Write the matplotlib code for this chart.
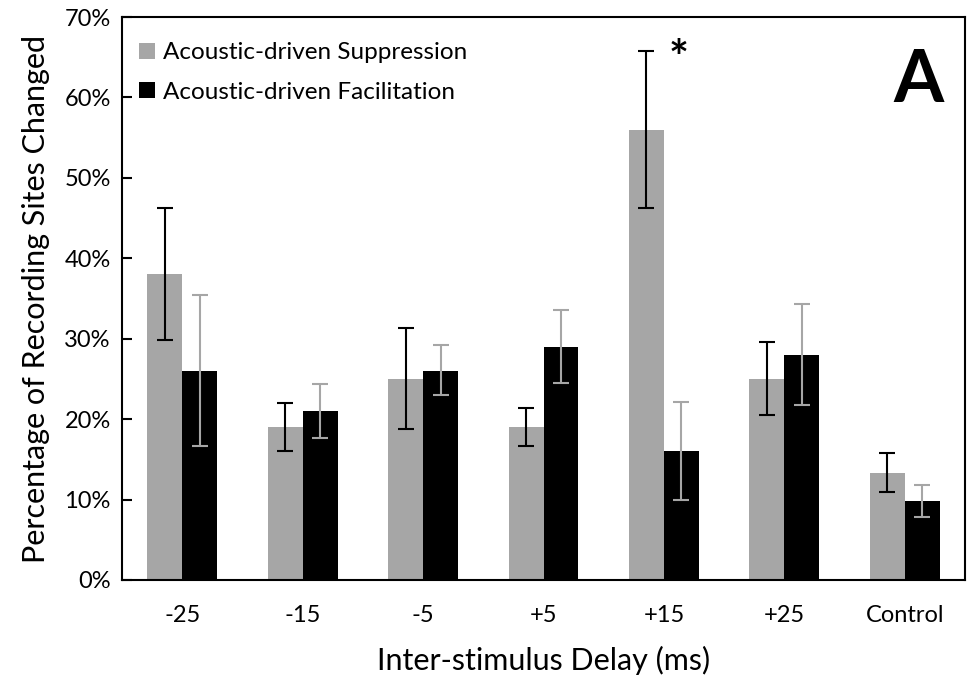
import matplotlib.pyplot as plt
import numpy as np

plt.rcParams['font.family'] = ['Lato', 'DejaVu Sans']

categories = ['-25', '-15', '-5', '+5', '+15', '+25', 'Control']
suppression = [38, 19, 25, 19, 56, 25, 13.3]
supp_lo = [29.8, 16.1, 18.8, 16.6, 46.3, 20.5, 10.9]
supp_hi = [46.2, 22.0, 31.3, 21.4, 65.8, 29.6, 15.8]
facilitation = [26, 21, 26, 29, 16, 28, 9.8]
fac_lo = [16.7, 17.6, 23.0, 24.5, 9.9, 21.8, 7.8]
fac_hi = [35.4, 24.4, 29.2, 33.6, 22.1, 34.3, 11.8]

fig = plt.figure(figsize=(9.67, 6.83), dpi=100)
ax = fig.add_axes([122 / 967, 1 - 580 / 683, 843 / 967, 563 / 683])

x = np.arange(len(categories))
w = 0.29
s = np.array(suppression)
f = np.array(facilitation)
s_err = [s - np.array(supp_lo), np.array(supp_hi) - s]
f_err = [f - np.array(fac_lo), np.array(fac_hi) - f]

ax.bar(x - w / 2, s, w, color='#a6a6a6', label='Acoustic-driven Suppression',
       yerr=s_err, error_kw=dict(ecolor='black', elinewidth=1.5, capsize=6, capthick=1.5))
ax.bar(x + w / 2, f, w, color='black', label='Acoustic-driven Facilitation',
       yerr=f_err, error_kw=dict(ecolor='#a6a6a6', elinewidth=1.5, capsize=6, capthick=1.5))

ax.set_xlim(-0.5, len(categories) - 0.5)
ax.set_ylim(0, 70)
ax.set_yticks(np.arange(0, 71, 10))
ax.set_yticklabels([f'{v}%' for v in range(0, 71, 10)], fontsize=17)
ax.set_xticks(x)
ax.set_xticklabels(categories, fontsize=17)
ax.tick_params(axis='y', direction='in', length=7, width=1.5, pad=8)
ax.tick_params(axis='x', length=0, pad=18)
for sp in ax.spines.values():
    sp.set_linewidth(1.5)

ax.set_xlabel('Inter-stimulus Delay (ms)', fontsize=22, labelpad=14)
ax.set_ylabel('Percentage of Recording Sites Changed', fontsize=22, labelpad=10)

ax.text(x[4] + 0.12, 64.7, '*', fontsize=34, fontweight='bold', ha='center', va='center')
ax.text(0.975, 0.885, 'A', transform=ax.transAxes, fontsize=52, fontweight='bold',
        ha='right', va='center')

ax.legend(loc='upper left', frameon=False, fontsize=17.5, handlelength=0.65, handleheight=0.65,
          handletextpad=0.35, borderaxespad=0.3, labelspacing=0.75, bbox_to_anchor=(0.0, 0.985))

fig.savefig('out.png', dpi=100)
